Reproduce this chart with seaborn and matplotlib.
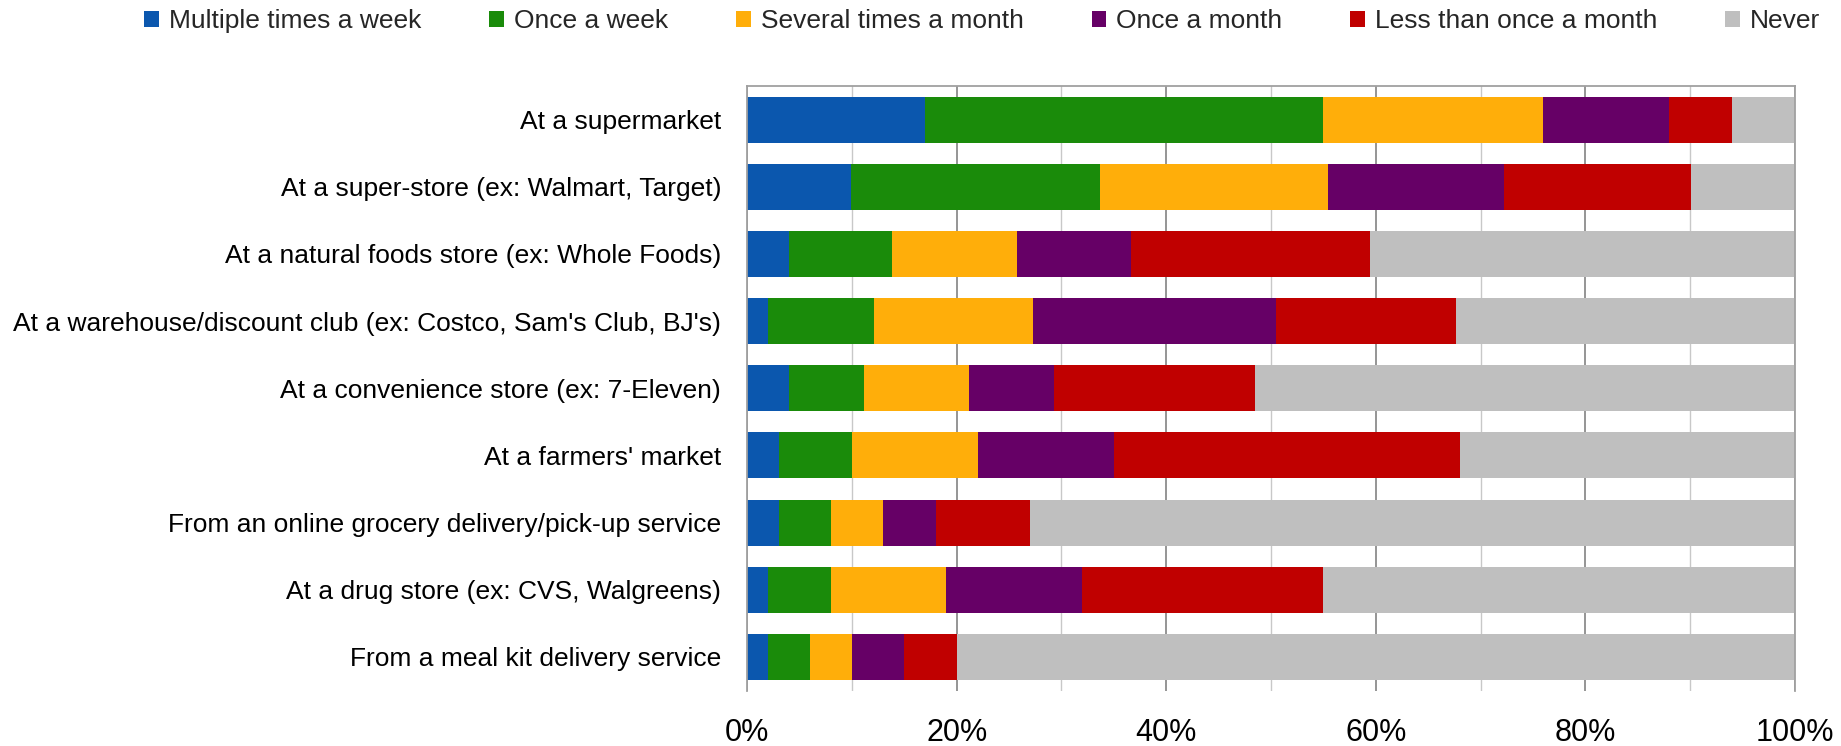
import pandas as pd
import numpy as np
import matplotlib
matplotlib.use("Agg")
import matplotlib.pyplot as plt
from matplotlib.patches import Patch
from matplotlib.ticker import MultipleLocator, FuncFormatter
import seaborn as sns

stores = ["At a supermarket",
          "At a super-store (ex: Walmart, Target)",
          "At a natural foods store (ex: Whole Foods)",
          "At a warehouse/discount club (ex: Costco, Sam's Club, BJ's)",
          "At a convenience store (ex: 7-Eleven)",
          "At a farmers' market",
          "From an online grocery delivery/pick-up service",
          "At a drug store (ex: CVS, Walgreens)",
          "From a meal kit delivery service"]

series_names = ["Multiple times a week", "Once a week", "Several times a month",
                "Once a month", "Less than once a month", "Never"]

multiple = [17, 10, 4, 2, 4, 3, 3, 2, 2]
once_week = [38, 24, 10, 10, 7, 7, 5, 6, 4]
several = [21, 22, 12, 15, 10, 12, 5, 11, 4]
once_month = [12, 17, 11, 23, 8, 13, 5, 13, 5]
less_month = [6, 18, 23, 17, 19, 33, 9, 23, 5]
never = [6, 10, 41, 32, 51, 32, 73, 45, 80]

colors = ["#0B57AE", "#1A8B0A", "#FFAE0A", "#660066", "#C00000", "#BFBFBF"]

df = pd.DataFrame({"store": stores,
                   series_names[0]: multiple,
                   series_names[1]: once_week,
                   series_names[2]: several,
                   series_names[3]: once_month,
                   series_names[4]: less_month,
                   series_names[5]: never})

# 100% stacked: normalise each row, then cumulative sums
vals = df[series_names].astype(float)
vals = vals.div(vals.sum(axis=1), axis=0) * 100
cum = vals.cumsum(axis=1)
cum["store"] = df["store"]

sns.set_style("white")
plt.rcParams['font.family'] = ['Liberation Sans', 'DejaVu Sans']

fig, ax = plt.subplots(figsize=(18.41, 7.46), dpi=100)
fig.subplots_adjust(left=0.4058, right=0.975, top=0.8847, bottom=0.0743)

# draw from the longest cumulative bar to the shortest
for name, col in reversed(list(zip(series_names, colors))):
    sns.barplot(data=cum, x=name, y="store", color=col, saturation=1,
                errorbar=None, width=0.685, orient="h", linewidth=0, ax=ax)

ax.set_xlim(0, 100)
ax.set_ylim(8.5, -0.5)
ax.set_xlabel("")
ax.set_ylabel("")

ax.xaxis.set_major_locator(MultipleLocator(20))
ax.xaxis.set_minor_locator(MultipleLocator(10))
ax.xaxis.set_major_formatter(FuncFormatter(lambda v, p: f"{v:.0f}%"))
ax.set_axisbelow(True)
ax.grid(which="major", axis="x", color="#8C8C8C", linewidth=1.3)
ax.grid(which="minor", axis="x", color="#C8C8C8", linewidth=1.0)
ax.grid(axis="y", visible=False)

ax.tick_params(axis="x", which="both", length=0, pad=20, labelsize=22, colors="black")
ax.tick_params(axis="y", length=0, pad=18.7, labelsize=19, colors="black")

for side in ["left", "top", "right"]:
    ax.spines[side].set_visible(True)
    ax.spines[side].set_color("#A0A0A0")
    ax.spines[side].set_linewidth(1.3)
ax.spines["bottom"].set_visible(False)

handles = [Patch(facecolor=c, edgecolor="none", label=n) for n, c in zip(series_names, colors)]
fig.legend(handles=handles, loc="center", bbox_to_anchor=(0.5335, 0.972), ncol=6,
           frameon=False, fontsize=19, handlelength=0.55, handleheight=0.55,
           handletextpad=0.38, columnspacing=2.58, borderpad=0)

plt.savefig("out.png", dpi=100)
